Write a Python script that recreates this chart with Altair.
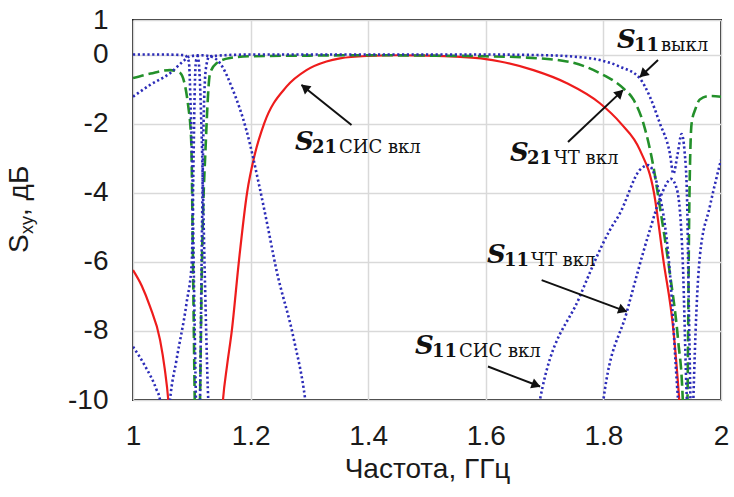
import math
import altair as alt
import pandas as pd

# ---------------- data ----------------
# S21 СИС вкл (red, solid)
red_f = [1.000, 1.015, 1.029, 1.046, 1.054, 1.060, 1.064, 1.149, 1.153, 1.160, 1.168, 1.180, 1.194, 1.207,
         1.223, 1.261, 1.295, 1.329, 1.352, 1.400, 1.450, 1.500, 1.550, 1.600, 1.624, 1.681, 1.738, 1.794,
         1.830, 1.862, 1.886, 1.902, 1.919, 1.929, 1.933]
red_db = [-6.24, -6.70, -7.30, -8.26, -9.10, -10.0, -11.0, -11.0, -10.0, -9.0, -8.0, -6.0, -4.0, -2.9,
          -2.0, -0.93, -0.45, -0.20, -0.11, -0.04, -0.02, -0.03, -0.06, -0.13, -0.20, -0.45, -0.83, -1.41,
          -2.0, -2.76, -4.0, -5.95, -7.97, -10.0, -11.0]

# S21 ЧТ вкл (green, dashed)
green_f = [1.000, 1.030, 1.063, 1.080, 1.094, 1.099, 1.102, 1.105, 1.107, 1.112, 1.114, 1.117, 1.124, 1.131,
           1.142, 1.165, 1.200, 1.300, 1.400, 1.500, 1.600, 1.660, 1.738, 1.794, 1.834, 1.851, 1.868, 1.885,
           1.896, 1.913, 1.927, 1.935, 1.938, 1.941, 1.943, 1.946, 1.950, 1.957, 1.964, 1.981, 2.000]
green_db = [-0.68, -0.55, -0.45, -0.53, -1.5, -2.5, -6.0, -10.0, -12.0, -12.0, -10.0, -6.3, -2.47, -0.55,
            -0.25, -0.10, -0.05, -0.03, -0.02, -0.03, -0.05, -0.08, -0.20, -0.54, -0.98, -1.30, -1.99, -3.24,
            -4.40, -6.33, -8.26, -10.0, -12.0, -12.0, -10.0, -4.5, -2.0, -1.55, -1.30, -1.20, -1.22]

# S11 выкл (blue, dotted)
off_f = [1.000, 1.050, 1.088, 1.095, 1.098, 1.101, 1.104, 1.107, 1.109, 1.112, 1.114, 1.117, 1.120, 1.124,
         1.130, 1.200, 1.400, 1.600, 1.700, 1.750, 1.794, 1.828, 1.862, 1.879, 1.896, 1.913, 1.919, 1.926,
         1.933, 1.938, 1.942, 1.945, 1.948, 1.950, 1.953, 1.958, 1.964, 1.981, 2.000]
off_db = [0.0, 0.0, -0.02, -0.2, -1.5, -3.5, -7.0, -10.0, -12.0, -12.0, -10.0, -5.5, -2.0, -0.4,
          -0.05, 0.0, 0.0, 0.0, -0.02, -0.06, -0.16, -0.35, -0.69, -1.22, -1.99, -2.86, -3.45, -2.9,
          -2.3, -2.8, -4.0, -7.0, -10.0, -12.0, -10.0, -7.5, -5.85, -4.4, -3.05]

# S11 СИС вкл (blue, dotted)
sis11_f = [1.000, 1.029, 1.063, 1.085, 1.097, 1.115, 1.131, 1.148, 1.170, 1.193, 1.216, 1.227, 1.244, 1.273,
           1.293, 1.300, 1.685, 1.692, 1.760, 1.811, 1.828, 1.862, 1.876, 1.891, 1.913, 1.927, 1.932]
sis11_db = [-1.22, -0.88, -0.54, -0.20, -0.05, -0.02, -0.05, -0.25, -1.03, -2.2, -3.9, -4.8, -6.24, -8.2,
            -10.0, -11.0, -11.0, -10.0, -7.0, -5.08, -4.6, -3.34, -3.2, -3.73, -6.3, -10.0, -11.0]

# S11 ЧТ вкл (blue, dotted)
ct11_f = [1.000, 1.020, 1.040, 1.046, 1.050, 1.059, 1.063, 1.074, 1.091, 1.100, 1.103, 1.105, 1.107, 1.110,
          1.113, 1.117, 1.122, 1.128, 1.132, 1.796, 1.800, 1.840, 1.879, 1.900, 1.915, 1.925, 1.935, 1.942, 1.946]
ct11_db = [-8.46, -9.0, -9.7, -10.0, -10.8, -10.8, -10.0, -8.84, -7.2, -6.0, -3.0, -1.0, -0.2, -0.05,
           -0.5, -2.47, -6.3, -10.0, -11.0, -11.0, -10.0, -7.44, -5.08, -4.0, -3.6, -3.9, -6.0, -10.0, -11.0]

# annotations (data units: GHz, dB)
lab_f = [1.2755, 1.641, 1.823, 1.602, 1.4796]
lab_db = [-2.76, -3.08, 0.19, -6.03, -8.67]
lab_sub = ["21", "21", "11", "11", "11"]
lab_txt = ["СИС вкл", "ЧТ вкл", "выкл", "ЧТ вкл", "СИС вкл"]

arr_f1 = [1.3716, 1.7398, 1.8929, 1.6950, 1.6037]
arr_db1 = [-2.04, -2.53, -0.158, -6.53, -9.03]
arr_f2 = [1.2866, 1.8333, 1.8622, 1.8396, 1.6922]
arr_db2 = [-0.88, -1.03, -0.65, -7.44, -9.61]

x_ticks = [1, 1.2, 1.4, 1.6, 1.8, 2]
y_ticks = [-10, -8, -6, -4, -2, 0, 1]

# ---------------- chart ----------------
W, H = 588, 380
XD, YD = [1, 2], [-10, 1]
AXF = "Liberation Sans"
TXT = "#1a1a1a"
LFS = 28

xs = alt.Scale(domain=XD, nice=False, zero=False)
ys = alt.Scale(domain=YD, nice=False, zero=False)

x_axis = alt.Axis(values=x_ticks, labelExpr="toString(datum.value)", title="Частота, ГГц",
                  tickSize=0, domain=False, grid=True, gridColor="#d9d9d9", gridWidth=1.5,
                  labelFont=AXF, labelFontSize=LFS, labelColor=TXT, labelPadding=22,
                  titleFont=AXF, titleFontSize=28, titleFontWeight="normal", titleColor=TXT,
                  titlePadding=5, labelFlush=False)
y_axis = alt.Axis(values=y_ticks, labelExpr="toString(datum.value)", title="",
                  tickSize=0, domain=False, grid=True, gridColor="#d9d9d9", gridWidth=1.5,
                  labelFont=AXF, labelFontSize=LFS, labelColor=TXT, labelPadding=25, labelFlush=False)


def X(field):
    return alt.X(field, type="quantitative", scale=xs, axis=x_axis)


def Y(field):
    return alt.Y(field, type="quantitative", scale=ys, axis=y_axis)


def line_layer(fs, dbs, color, width, dash=None):
    df = pd.DataFrame({"f": fs, "db": dbs})
    kw = dict(clip=True, color=color, strokeWidth=width, interpolate="monotone")
    if dash:
        kw["strokeDash"] = dash
    return alt.Chart(df).mark_line(**kw).encode(x=X("f"), y=Y("db"))


BLUE = "#2c2cb8"
DOT = [2.2, 2.6]
red = line_layer(red_f, red_db, "#ee1c1c", 2.2)
green = line_layer(green_f, green_db, "#23902a", 2.6, dash=[11, 5])
off = line_layer(off_f, off_db, BLUE, 2.6, dash=DOT)
sis11 = line_layer(sis11_f, sis11_db, BLUE, 2.6, dash=DOT)
ct11 = line_layer(ct11_f, ct11_db, BLUE, 2.6, dash=DOT)

# labels
lab = pd.DataFrame({"f": lab_f, "db": lab_db, "sub": lab_sub, "txt": lab_txt})
SERIF = "DejaVu Serif"
lab_s = alt.Chart(lab).mark_text(text="S", font=SERIF, fontSize=26, fontWeight="bold", fontStyle="italic",
                                 align="left", baseline="alphabetic", color="#111").encode(x=X("f"), y=Y("db"))
lab_n = alt.Chart(lab).mark_text(font=SERIF, fontSize=18, fontWeight="bold", align="left",
                                 baseline="alphabetic", dx=17, dy=3, color="#111").encode(
    x=X("f"), y=Y("db"), text="sub:N")
lab_w = alt.Chart(lab).mark_text(font=SERIF, fontSize=18, align="left",
                                 baseline="alphabetic", dx=44, dy=3, color="#111").encode(
    x=X("f"), y=Y("db"), text="txt:N")

# arrows
ppx = W / (XD[1] - XD[0])
ppy = H / (YD[1] - YD[0])
ang, hf, hdb = [], [], []
for a1, b1, a2, b2 in zip(arr_f1, arr_db1, arr_f2, arr_db2):
    dxp = (a2 - a1) * ppx
    dyp = -(b2 - b1) * ppy
    ln = math.hypot(dxp, dyp)
    ang.append((math.degrees(math.atan2(dxp, -dyp)) + 360) % 360)
    hf.append(a2 - dxp / ln * 4 / ppx)
    hdb.append(b2 + dyp / ln * 4 / ppy)
arr = pd.DataFrame({"f1": arr_f1, "db1": arr_db1, "f2": arr_f2, "db2": arr_db2,
                    "ang": ang, "hf": hf, "hdb": hdb})
shafts = alt.Chart(arr).mark_rule(color="#111", strokeWidth=2).encode(
    x=X("f1"), y=Y("db1"), x2="f2:Q", y2="db2:Q")
heads = alt.Chart(arr).mark_point(shape="triangle-up", filled=True, size=110, color="#111", opacity=1).encode(
    x=X("hf"), y=Y("hdb"), angle=alt.Angle("ang:Q", scale=None))

# y-axis title with subscript (pixel offsets relative to plot origin)
one = pd.DataFrame({"a": [0]})
yt_s = alt.Chart(one).mark_text(text="S", font=AXF, fontSize=28, angle=270, align="left",
                                baseline="alphabetic", color=TXT).encode(x=alt.value(-105), y=alt.value(233))
yt_xy = alt.Chart(one).mark_text(text="xy", font=AXF, fontSize=18, angle=270, align="left",
                                 baseline="alphabetic", color=TXT).encode(x=alt.value(-100), y=alt.value(214))
yt_db = alt.Chart(one).mark_text(text=", дБ", font=AXF, fontSize=28, angle=270, align="left",
                                 baseline="alphabetic", color=TXT).encode(x=alt.value(-105), y=alt.value(196))

chart = alt.layer(red, green, off, sis11, ct11, shafts, heads, lab_s, lab_n, lab_w, yt_s, yt_xy, yt_db).properties(
    width=W, height=H,
    autosize=alt.AutoSizeParams(type="none"),
    padding={"left": 133, "top": 20, "right": 13, "bottom": 97},
    background="white",
).configure_view(stroke="#222", strokeWidth=2)

chart.save("out.html", embed_options={"renderer": "svg", "actions": False})
